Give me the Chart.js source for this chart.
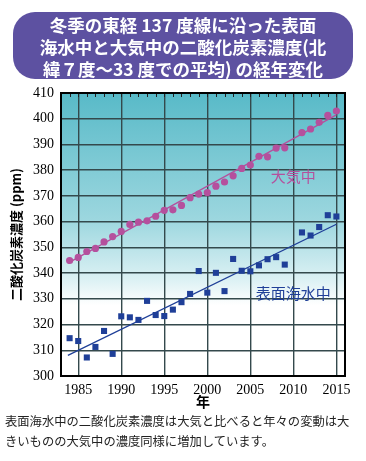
<!DOCTYPE html>
<html>
<head>
<meta charset="utf-8">
<script src="https://cdn.jsdelivr.net/npm/chart.js@4.4.1/dist/chart.umd.min.js"></script>
<style>
  html, body { margin: 0; padding: 0; background: #fff; }
  #wrap { position: relative; width: 366px; height: 461px; overflow: hidden; }
  #chart { position: absolute; left: 0; top: 0; }
  .title {
    position: absolute; left: 13px; top: 12px; width: 340px; height: 67px;
    background: #5d51a1; border-radius: 22px; color: #fff;
    font: bold 17.5px "Noto Sans CJK JP", sans-serif; line-height: 22px;
    text-align: center; padding-top: 2px; box-sizing: border-box;
  }
  .note {
    position: absolute; left: 5px; top: 411px; width: 362px;
    font: 12.3px "Noto Sans CJK JP", sans-serif; line-height: 20px; color: #222;
  }
</style>
</head>
<body>
<div id="wrap">
  <canvas id="chart" width="366" height="461"></canvas>
  <div class="title">冬季の東経 137 度線に沿った表面<br>海水中と大気中の二酸化炭素濃度(北<br>緯７度～33 度での平均) の経年変化</div>
  <div class="note">表面海水中の二酸化炭素濃度は大気と比べると年々の変動は大<br>きいものの大気中の濃度同様に増加しています。</div>
</div>
<script>
// Years with observations (no 2010 value in the figure)
const years = [1984, 1985, 1986, 1987, 1988, 1989, 1990, 1991, 1992, 1993, 1994, 1995, 1996, 1997, 1998, 1999,
  2000, 2001, 2002, 2003, 2004, 2005, 2006, 2007, 2008, 2009, 2011, 2012, 2013, 2014, 2015];

// Atmospheric CO2 (ppm)
const atmosphere = [344.9, 346.1, 348.4, 349.6, 352.1, 354.2, 356.2, 358.9, 359.8, 360.3, 362.1, 364.4, 364.6, 366.3, 369.3, 370.7,
  371.3, 373.8, 375.4, 377.8, 380.7, 382.0, 385.4, 385.2, 388.6, 388.7, 394.6, 396.0, 398.6, 401.3, 403.0];

// Surface seawater CO2 (ppm)
const seawater = [314.7, 313.6, 307.2, 311.3, 317.5, 308.6, 323.2, 322.8, 321.8, 329.2, 323.7, 323.3, 325.8, 328.7, 331.9, 340.8,
  332.4, 340.1, 333.0, 345.5, 340.9, 340.7, 343.0, 345.4, 346.2, 343.3, 355.8, 354.6, 357.9, 362.5, 362.0];

// Trend lines (start / end)
const trendYears = [1983.8, 2015];
const atmosphereTrend = [343.9, 401.5];
const seawaterTrend = [308.0, 359.0];

const xTicks = [1985, 1990, 1995, 2000, 2005, 2010, 2015];
const yTicks = [300, 310, 320, 330, 340, 350, 360, 370, 380, 390, 400, 410];

const PINK = '#b5509d';
const BLUE = '#1f3f98';

const toPoints = (xs, ys) => xs.map((x, i) => ({ x: x, y: ys[i] }));

// Plot background gradient, top year ticks and series labels
const decor = {
  id: 'decor',
  beforeDraw(chart) {
    const { ctx, chartArea: a } = chart;
    const g = ctx.createLinearGradient(0, a.top, 0, a.bottom);
    g.addColorStop(0, '#58bac8');
    g.addColorStop(0.45, '#9dd7df');
    g.addColorStop(0.66, '#dcf1f4');
    g.addColorStop(0.75, '#ffffff');
    g.addColorStop(1, '#ffffff');
    ctx.save();
    ctx.fillStyle = g;
    ctx.fillRect(a.left, a.top, a.right - a.left, a.bottom - a.top);
    ctx.restore();
  },
  afterDraw(chart) {
    const { ctx, chartArea: a, scales } = chart;
    ctx.save();
    ctx.strokeStyle = '#222';
    ctx.lineWidth = 1;
    for (let yr = 1984; yr <= 2015; yr++) {
      const x = Math.round(scales.x.getPixelForValue(yr)) + 0.5;
      ctx.beginPath();
      ctx.moveTo(x, a.top);
      ctx.lineTo(x, a.top + 4);
      ctx.stroke();
    }
    ctx.strokeStyle = '#000';
    ctx.lineWidth = 2;
    ctx.strokeRect(a.left, a.top, a.right - a.left, a.bottom - a.top);

    ctx.font = '15px "Noto Sans CJK JP", sans-serif';
    ctx.textAlign = 'center';
    ctx.textBaseline = 'middle';
    ctx.fillStyle = PINK;
    ctx.fillText('大気中', scales.x.getPixelForValue(2010), scales.y.getPixelForValue(377.7));
    ctx.fillStyle = BLUE;
    ctx.fillText('表面海水中', scales.x.getPixelForValue(2010), scales.y.getPixelForValue(332.3));
    ctx.restore();
  }
};

new Chart(document.getElementById('chart').getContext('2d'), {
  type: 'scatter',
  data: {
    datasets: [
      {
        type: 'line',
        data: toPoints(trendYears, atmosphereTrend),
        borderColor: PINK,
        borderWidth: 1.3,
        pointRadius: 0
      },
      {
        type: 'line',
        data: toPoints(trendYears, seawaterTrend),
        borderColor: BLUE,
        borderWidth: 1.3,
        pointRadius: 0
      },
      {
        data: toPoints(years, atmosphere),
        backgroundColor: PINK,
        borderWidth: 0,
        pointStyle: 'circle',
        pointRadius: 3.6
      },
      {
        data: toPoints(years, seawater),
        backgroundColor: BLUE,
        borderWidth: 0,
        pointStyle: 'rect',
        pointRadius: 4.3
      }
    ]
  },
  options: {
    responsive: false,
    animation: false,
    layout: { padding: { top: 93, right: 21, bottom: 51, left: 0 } },
    plugins: {
      legend: { display: false },
      tooltip: { enabled: false }
    },
    scales: {
      x: {
        type: 'linear',
        min: 1983,
        max: 2016,
        afterBuildTicks: scale => { scale.ticks = xTicks.map(v => ({ value: v })); },
        afterFit: scale => { scale.height = 34; },
        grid: { color: '#34494c', lineWidth: 1.4, drawTicks: false },
        border: { display: false },
        ticks: {
          padding: 6,
          color: '#000',
          callback: v => String(v),
          font: { family: '"Liberation Serif", serif', size: 14 }
        },
        title: {
          display: true,
          text: '年',
          color: '#000',
          padding: { top: 0, bottom: 0 },
          font: { family: '"Noto Sans CJK JP", sans-serif', size: 14, weight: 'bold' }
        }
      },
      y: {
        min: 300,
        max: 410,
        afterBuildTicks: scale => { scale.ticks = yTicks.map(v => ({ value: v })); },
        afterFit: scale => { scale.width = 61; },
        grid: { color: '#34494c', lineWidth: 1.4, drawTicks: false },
        border: { display: false },
        ticks: {
          padding: 7,
          color: '#000',
          font: { family: '"Liberation Serif", serif', size: 14 }
        },
        title: {
          display: true,
          text: '二酸化炭素濃度 (ppm)',
          color: '#000',
          padding: { top: 8, bottom: 0 },
          font: { family: '"Noto Sans CJK JP", sans-serif', size: 13, weight: 'bold' }
        }
      }
    }
  },
  plugins: [decor]
});
</script>
</body>
</html>
